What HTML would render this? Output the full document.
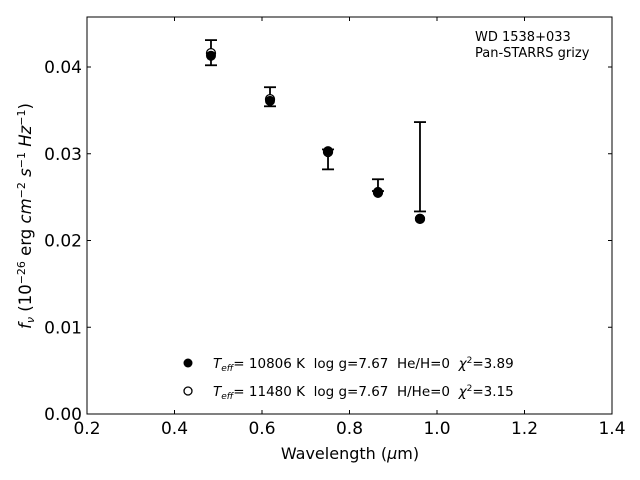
<!DOCTYPE html>
<html><head><meta charset="utf-8"><style>
body{margin:0;background:#fff}
svg{display:block;font-family:"DejaVu Sans","Liberation Sans",sans-serif}
text{white-space:pre}
</style></head><body>
<svg id="chart" width="640" height="480">
<g id="plot"></g>
</svg>
<script>
const wavelengths=[0.4834,0.6183,0.7509,0.8651,0.9611];
const obsFlux=[0.04165,0.03657,0.02935,0.02638,0.0285];
const obsErr=[0.00145,0.0011,0.00115,0.00068,0.00515];
const modelH=[0.0413,0.0361,0.0303,0.0256,0.0225];
const modelHe=[0.0416,0.0363,0.0302,0.0255,0.0225];
const xTicks=[0.2,0.4,0.6,0.8,1.0,1.2,1.4];
const xTickLabels=["0.2","0.4","0.6","0.8","1.0","1.2","1.4"];
const yTicks=[0,0.01,0.02,0.03,0.04];
const yTickLabels=["0.00","0.01","0.02","0.03","0.04"];

const L=87,R=612,T=17,B=414;
const sx=v=>L+(v-0.2)/(1.4-0.2)*(R-L);
const sy=v=>B-v*8675;
const NS="http://www.w3.org/2000/svg";
const g=document.getElementById('plot');
function mk(tag,attrs,parent){const e=document.createElementNS(NS,tag);for(const k in attrs)e.setAttribute(k,attrs[k]);(parent||g).appendChild(e);return e;}

const frame=mk('rect',{x:L,y:T,width:R-L,height:B-T,fill:'none',stroke:'#000','stroke-width':1});



xTicks.forEach((v,i)=>{
  const x=sx(v);
  const t1=mk('line',{x1:x,x2:x,y1:B,y2:B-4,stroke:'#000'});
  
  
  const t2=mk('line',{x1:x,x2:x,y1:T,y2:T+4,stroke:'#000'});
  
  
  const tx=mk('text',{x:x,y:434,'text-anchor':'middle','font-size':17});
  tx.textContent=xTickLabels[i];
  
  
});
yTicks.forEach((v,i)=>{
  const y=sy(v);
  const t1=mk('line',{x1:L,x2:L+4,y1:y,y2:y,stroke:'#000'});
  
  
  const t2=mk('line',{x1:R,x2:R-4,y1:y,y2:y,stroke:'#000'});
  
  
  const tx=mk('text',{x:82,y:y+6,'text-anchor':'end','font-size':17});
  tx.textContent=yTickLabels[i];
  
  
});

wavelengths.forEach((w,i)=>{
  const x=sx(w),y1=sy(obsFlux[i]+obsErr[i]),y2=sy(obsFlux[i]-obsErr[i]);
  const eb=mk('g',{stroke:'#000','stroke-width':1.8});
  
  
  mk('line',{x1:x,x2:x,y1:y1,y2:y2},eb);
  mk('line',{x1:x-6,x2:x+6,y1:y1,y2:y1},eb);
  mk('line',{x1:x-6,x2:x+6,y1:y2,y2:y2},eb);
  const o=mk('circle',{cx:x,cy:sy(modelHe[i]),r:4.5,fill:'#fff',stroke:'#000','stroke-width':1.3});
  
  
  const f=mk('circle',{cx:x,cy:sy(modelH[i]),r:5,fill:'#000'});
  
  
});
</script>
<svg style="position:absolute;left:0;top:0" width="640" height="480">
<g font-family="DejaVu Sans, Liberation Sans, sans-serif">
<text x="475" y="41" font-size="13">WD 1538+033</text>
<text x="475" y="57" font-size="13">Pan-STARRS grizy</text>
<g>
<circle cx="188" cy="363" r="4.5" fill="#000"/>
<text x="213" y="368" font-size="13.5"><tspan font-style="italic">T</tspan><tspan font-style="italic" font-size="9" dy="3">eff</tspan><tspan dy="-3">= 10806 K  log g=7.67  He/H=0  </tspan><tspan font-style="italic">χ</tspan><tspan font-size="9" dy="-5">2</tspan><tspan dy="5">=3.89</tspan></text>
<circle cx="188" cy="391" r="4" fill="#fff" stroke="#000" stroke-width="1.3"/>
<text x="213" y="396" font-size="13.5"><tspan font-style="italic">T</tspan><tspan font-style="italic" font-size="9" dy="3">eff</tspan><tspan dy="-3">= 11480 K  log g=7.67  H/He=0  </tspan><tspan font-style="italic">χ</tspan><tspan font-size="9" dy="-5">2</tspan><tspan dy="5">=3.15</tspan></text>
</g>
<text x="350" y="459" font-size="16" text-anchor="middle">Wavelength (<tspan font-style="italic">μ</tspan>m)</text>
<text transform="translate(31,216) rotate(-90)" font-size="16.5" text-anchor="middle"><tspan font-style="italic">f</tspan><tspan font-style="italic" font-size="11" dy="3">ν</tspan><tspan dy="-3"> (10</tspan><tspan font-size="11" dy="-6">−26</tspan><tspan dy="6"> erg </tspan><tspan font-style="italic">cm</tspan><tspan font-size="11" dy="-6">−2</tspan><tspan dy="6" font-style="italic"> s</tspan><tspan font-size="11" dy="-6">−1</tspan><tspan dy="6" font-style="italic"> Hz</tspan><tspan font-size="11" dy="-6">−1</tspan><tspan dy="6">)</tspan></text>
</g>
</svg>
</body></html>
